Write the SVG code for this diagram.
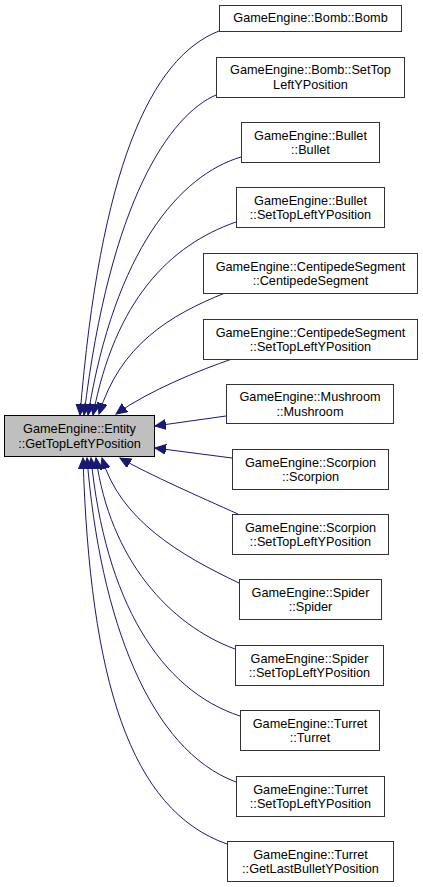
<svg xmlns="http://www.w3.org/2000/svg" width="423" height="887" viewBox="0 0 423 887">
<style>
  .node rect { fill: #ffffff; stroke: #333333; stroke-width: 1; }
  .main rect { fill: #bfbfbf; stroke: #000000; stroke-width: 1; }
  text { font-family: "Liberation Sans", Arial, sans-serif; font-size: 12.7px; fill: #000000; text-anchor: middle; }
  .edge { fill: none; stroke: #191970; stroke-width: 1; marker-end: url(#arr); }
</style>
<defs>
  <marker id="arr" markerUnits="userSpaceOnUse" markerWidth="12" markerHeight="11" refX="11" refY="5" orient="auto" viewBox="0 0 12 11">
    <path d="M0,0 L11,5 L0,10 Z" fill="#191970" stroke="#191970" stroke-width="1"/>
  </marker>
</defs>
<rect width="423" height="887" fill="#ffffff"/>
<g id="edges">
  <path class="edge" d="M219,31 C150,58 100,170 80,415"/>
  <path class="edge" d="M216,95 C170,115 110,200 84,415"/>
  <path class="edge" d="M241,157 C180,175 115,250 88,415"/>
  <path class="edge" d="M236,222 C170,245 115,300 93,415"/>
  <path class="edge" d="M225,293 C170,315 120,345 99,414"/>
  <path class="edge" d="M232,359 C200,370 150,390 116,414"/>
  <path class="edge" d="M226,416 L155,426"/>
  <path class="edge" d="M232,458 L155,448"/>
  <path class="edge" d="M238,514 C200,497 150,475 120,458"/>
  <path class="edge" d="M239,583 C180,555 120,520 102,458"/>
  <path class="edge" d="M235,649 C170,625 110,560 96,458"/>
  <path class="edge" d="M240,716 C160,690 105,600 91,458"/>
  <path class="edge" d="M236,782 C150,750 100,620 87,458"/>
  <path class="edge" d="M227,844 C130,810 90,680 83,458"/>
</g>
<g id="main" class="main">
  <rect x="4.5" y="415.5" width="150" height="41"/>
  <text x="79.5" y="433">GameEngine::Entity</text>
  <text x="79.5" y="448">::GetTopLeftYPosition</text>
</g>
<g id="bomb_ctor" class="node">
  <rect x="219.5" y="5.5" width="182" height="26"/>
  <text x="310.5" y="22">GameEngine::Bomb::Bomb</text>
</g>
<g id="bomb_set" class="node">
  <rect x="216.5" y="57.5" width="188" height="40"/>
  <text x="310.5" y="74">GameEngine::Bomb::SetTop</text>
  <text x="310.5" y="88.5">LeftYPosition</text>
</g>
<g id="bullet_ctor" class="node">
  <rect x="241.5" y="122.5" width="138" height="40"/>
  <text x="310.5" y="139.5">GameEngine::Bullet</text>
  <text x="310.5" y="154">::Bullet</text>
</g>
<g id="bullet_set" class="node">
  <rect x="236.5" y="187.5" width="148" height="40"/>
  <text x="310.5" y="204.5">GameEngine::Bullet</text>
  <text x="310.5" y="219">::SetTopLeftYPosition</text>
</g>
<g id="centipede_ctor" class="node">
  <rect x="203.5" y="253.5" width="214" height="40"/>
  <text x="310.5" y="270.5">GameEngine::CentipedeSegment</text>
  <text x="310.5" y="285">::CentipedeSegment</text>
</g>
<g id="centipede_set" class="node">
  <rect x="203.5" y="319.5" width="214" height="40"/>
  <text x="310.5" y="336.5">GameEngine::CentipedeSegment</text>
  <text x="310.5" y="351">::SetTopLeftYPosition</text>
</g>
<g id="mushroom_ctor" class="node">
  <rect x="226.5" y="384.5" width="167" height="39"/>
  <text x="310" y="401">GameEngine::Mushroom</text>
  <text x="310" y="415.5">::Mushroom</text>
</g>
<g id="scorpion_ctor" class="node">
  <rect x="232.5" y="449.5" width="156" height="40"/>
  <text x="310.5" y="466.5">GameEngine::Scorpion</text>
  <text x="310.5" y="481">::Scorpion</text>
</g>
<g id="scorpion_set" class="node">
  <rect x="232.5" y="514.5" width="156" height="40"/>
  <text x="310.5" y="531.5">GameEngine::Scorpion</text>
  <text x="310.5" y="546">::SetTopLeftYPosition</text>
</g>
<g id="spider_ctor" class="node">
  <rect x="239.5" y="579.5" width="142" height="40"/>
  <text x="310.5" y="596.5">GameEngine::Spider</text>
  <text x="310.5" y="611">::Spider</text>
</g>
<g id="spider_set" class="node">
  <rect x="235.5" y="645.5" width="148" height="40"/>
  <text x="309.5" y="662.5">GameEngine::Spider</text>
  <text x="309.5" y="677">::SetTopLeftYPosition</text>
</g>
<g id="turret_ctor" class="node">
  <rect x="240.5" y="710.5" width="139" height="40"/>
  <text x="310" y="727.5">GameEngine::Turret</text>
  <text x="310" y="742">::Turret</text>
</g>
<g id="turret_set" class="node">
  <rect x="236.5" y="776.5" width="148" height="40"/>
  <text x="310.5" y="793.5">GameEngine::Turret</text>
  <text x="310.5" y="808">::SetTopLeftYPosition</text>
</g>
<g id="turret_getlast" class="node">
  <rect x="227.5" y="841.5" width="166" height="40"/>
  <text x="310.5" y="858.5">GameEngine::Turret</text>
  <text x="310.5" y="873">::GetLastBulletYPosition</text>
</g>
</svg>
